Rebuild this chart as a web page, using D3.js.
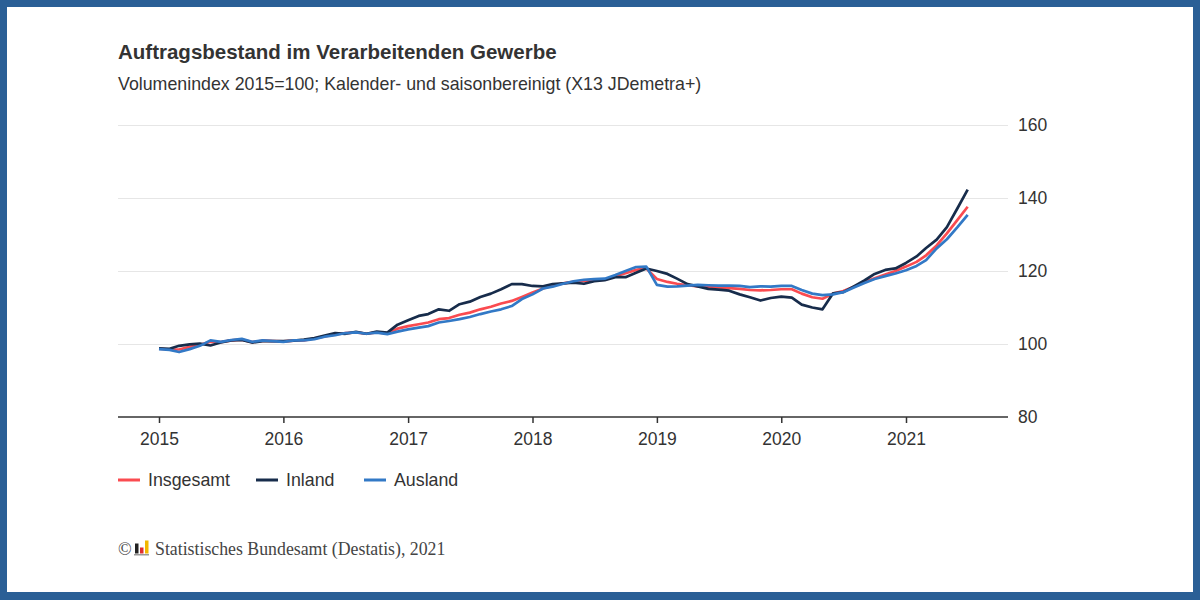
<!DOCTYPE html>
<html>
<head>
<meta charset="utf-8">
<script src="https://cdn.jsdelivr.net/npm/d3@7"></script>
<style>
    body { margin: 0; }
    svg { display: block; font-family: 'Liberation Sans', Arial, sans-serif; }
</style>
</head>
<body>
<svg id="chart"></svg>
<script>
// monthly values, Jan 2015 .. Jul 2021
const insgesamt = [
    98.7, 98.5, 98.5, 99.2, 99.8, 100.6, 100.5, 101.0, 101.2, 100.5, 100.9, 100.8,
    100.7, 100.9, 101.0, 101.5, 102.1, 102.6, 103.0, 103.2, 102.8, 103.2, 102.9, 104.2,
    104.9, 105.4, 105.9, 106.8, 107.1, 108.0, 108.6, 109.5, 110.2, 111.1, 111.8, 112.9,
    114.1, 115.2, 116.0, 116.6, 117.0, 117.3, 117.4, 117.6, 118.6, 119.4, 120.3, 120.7,
    117.8, 117.0, 116.5, 116.1, 115.8, 115.6, 115.5, 115.3, 115.1, 114.8, 114.7, 114.8,
    115.0, 115.0, 113.8, 112.8, 112.4, 113.8, 114.5, 115.7, 117.0, 118.0, 119.0, 120.0,
    121.2, 122.5, 124.3, 127.0, 130.3, 134.0, 137.6,
];
const inland = [
    98.8, 98.7, 99.5, 99.9, 100.1, 99.6, 100.4, 101.0, 101.1, 100.4, 100.8, 100.8,
    100.8, 100.9, 101.2, 101.6, 102.3, 103.0, 102.8, 103.3, 102.8, 103.4, 103.1, 105.3,
    106.5, 107.7, 108.2, 109.5, 109.1, 110.9, 111.6, 112.9, 113.8, 115.0, 116.4, 116.4,
    115.9, 115.8, 116.4, 116.6, 116.8, 116.5, 117.2, 117.5, 118.3, 118.3, 119.5, 120.7,
    120.0, 119.2, 117.9, 116.4, 115.8, 115.1, 114.9, 114.6, 113.6, 112.8, 111.9, 112.6,
    113.0, 112.7, 110.8, 110.0, 109.5, 113.9, 114.2, 115.8, 117.4, 119.2, 120.3, 120.7,
    122.2, 124.0, 126.3, 128.6, 132.0, 137.2, 142.3,
];
const ausland = [
    98.6, 98.4, 97.8, 98.6, 99.5, 101.0, 100.6, 101.1, 101.4, 100.6, 101.0, 100.8,
    100.6, 101.0, 101.0, 101.3, 102.0, 102.4, 103.0, 103.2, 102.8, 103.1, 102.7, 103.4,
    104.0, 104.5, 104.9, 105.9, 106.3, 106.8, 107.4, 108.2, 108.9, 109.5, 110.4, 112.3,
    113.6, 115.2, 115.7, 116.5, 117.2, 117.6, 117.8, 117.9, 118.9, 120.0, 121.1, 121.2,
    116.2, 115.7, 115.8, 116.0, 116.2, 116.1, 116.0, 116.0, 115.9, 115.6, 115.8, 115.7,
    115.9, 115.9, 114.8, 113.8, 113.4, 113.6, 114.2, 115.5, 116.7, 117.8, 118.6, 119.3,
    120.2, 121.4, 123.0, 126.2, 128.7, 132.0, 135.4,
];
const seriesNames = ['Insgesamt', 'Inland', 'Ausland'];
const seriesColors = ['#fa4b50', '#172c4b', '#3279c6'];
const yTicks = [80, 100, 120, 140, 160];
const xYears = [2015, 2016, 2017, 2018, 2019, 2020, 2021];

const W = 1200, H = 600;
const plot = { left: 118, right: 1008, top: 125, bottom: 417 };

const svg = d3.select('#chart').attr('width', W).attr('height', H);

// frame
svg.append('rect').attr('width', W).attr('height', H).attr('fill', '#2a5f96');
svg.append('rect')
    .attr('x', 7).attr('y', 7)
    .attr('width', W - 14).attr('height', H - 15)
    .attr('fill', '#fff');

const months = d3.range(insgesamt.length).map(i => new Date(2015, i, 1));

const x = d3.scaleTime()
    .domain([new Date(2015, 0, 1), new Date(2021, 0, 1)])
    .range([159, 906]);
const y = d3.scaleLinear()
    .domain([80, 160])
    .range([plot.bottom, plot.top]);

// titles
svg.append('text')
    .attr('x', 118).attr('y', 59)
    .attr('font-size', 20.5).attr('font-weight', 'bold').attr('fill', '#333')
    .text('Auftragsbestand im Verarbeitenden Gewerbe');
svg.append('text')
    .attr('x', 118).attr('y', 90)
    .attr('font-size', 17.8).attr('fill', '#333')
    .text('Volumenindex 2015=100; Kalender- und saisonbereinigt (X13 JDemetra+)');

// grid + right axis labels
const yAxis = svg.append('g')
    .attr('transform', `translate(${plot.right},0)`)
    .call(d3.axisRight(y).tickValues(yTicks).tickSize(-(plot.right - plot.left)).tickPadding(10));
yAxis.select('.domain').remove();
yAxis.selectAll('.tick line').attr('stroke', '#e6e6e6');
yAxis.selectAll('.tick text')
    .attr('font-size', 17.5).attr('fill', '#333')
    .attr('font-family', 'Liberation Sans, Arial, sans-serif');
yAxis.selectAll('.tick').filter(d => d === 80).select('line').remove();

// x axis
const xAxis = svg.append('g')
    .attr('transform', `translate(0,${plot.bottom})`)
    .call(d3.axisBottom(x)
        .tickValues(xYears.map(yr => new Date(yr, 0, 1)))
        .tickFormat(d3.timeFormat('%Y'))
        .tickSize(6).tickSizeOuter(0).tickPadding(10));
xAxis.select('.domain')
    .attr('d', `M${plot.left},0H${plot.right}`)
    .attr('stroke', '#333').attr('stroke-width', 1.5);
xAxis.selectAll('.tick line').attr('stroke', '#333').attr('stroke-width', 1.5);
xAxis.selectAll('.tick text')
    .attr('font-size', 17.5).attr('fill', '#333')
    .attr('font-family', 'Liberation Sans, Arial, sans-serif');

// lines
const line = d3.line()
    .x((d, i) => x(months[i]))
    .y(d => y(d));

[insgesamt, inland, ausland].forEach((vals, k) => {
    svg.append('path')
        .datum(vals)
        .attr('fill', 'none')
        .attr('stroke', seriesColors[k])
        .attr('stroke-width', 2.7)
        .attr('stroke-linejoin', 'round')
        .attr('d', line);
});

// legend
const legendX = [118, 256, 364];
const legend = svg.append('g').attr('transform', 'translate(0,480)');
seriesNames.forEach((name, k) => {
    const g = legend.append('g').attr('transform', `translate(${legendX[k]},0)`);
    g.append('line')
        .attr('x1', 0).attr('x2', 22)
        .attr('stroke', seriesColors[k]).attr('stroke-width', 3);
    g.append('text')
        .attr('x', 30).attr('y', 6)
        .attr('font-size', 17.8).attr('fill', '#333')
        .text(name);
});

// source line
const src = svg.append('g').attr('transform', 'translate(118,555)');
src.append('text')
    .attr('x', 0).attr('y', 0)
    .attr('font-family', 'Liberation Serif, Times New Roman, serif')
    .attr('font-size', 18).attr('fill', '#444')
    .text('©');
const logo = [['#222', 0, 10], ['#e03030', 5, 6], ['#f2b800', 10, 13]];
logo.forEach(([c, dx, h]) => {
    src.append('rect')
        .attr('x', 17 + dx).attr('y', -h - 1.5)
        .attr('width', 3.5).attr('height', h)
        .attr('fill', c);
});
src.append('rect').attr('x', 16).attr('y', -1).attr('width', 15).attr('height', 1.5).attr('fill', '#999');
src.append('text')
    .attr('x', 37).attr('y', 0)
    .attr('font-family', 'Liberation Serif, Times New Roman, serif')
    .attr('font-size', 17.8).attr('fill', '#444')
    .text('Statistisches Bundesamt (Destatis), 2021');
</script>
</body>
</html>
